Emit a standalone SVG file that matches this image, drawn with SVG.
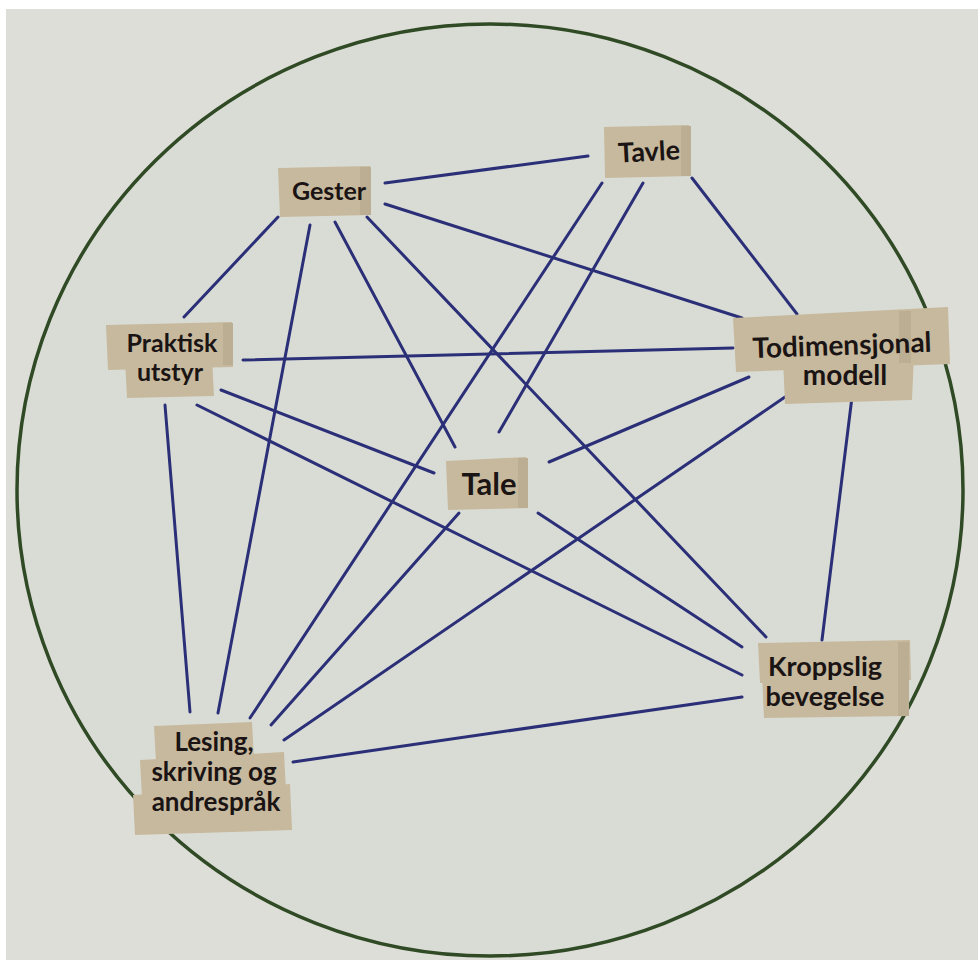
<svg xmlns="http://www.w3.org/2000/svg" width="978" height="960" viewBox="0 0 978 960">
<style>
.edge{stroke:#2b2f77;stroke-width:3;stroke-linecap:round;fill:none}
.tape{fill:#c7b99d}
.tape2{fill:#bcae92}
.lbl{font-family:Lato,"Open Sans","Liberation Sans",sans-serif;font-weight:bold;fill:#1a1414;text-anchor:middle}
</style>
<rect width="978" height="960" fill="#ffffff"/>
<rect x="6" y="9" width="972" height="951" fill="#ddded8"/>
<ellipse cx="490" cy="490" rx="473" ry="466" fill="#d9dcd5" stroke="#2f4a24" stroke-width="3.5"/>
<g id="connectors">
<line class="edge" x1="385" y1="183" x2="588" y2="156"/>
<line class="edge" x1="278" y1="217" x2="184" y2="317"/>
<line class="edge" x1="310" y1="225" x2="218" y2="713"/>
<line class="edge" x1="335" y1="222" x2="455" y2="447"/>
<line class="edge" x1="367" y1="217" x2="766" y2="637"/>
<line class="edge" x1="385" y1="204" x2="742" y2="318"/>
<line class="edge" x1="602" y1="183" x2="250" y2="718"/>
<line class="edge" x1="643" y1="183" x2="499" y2="432"/>
<line class="edge" x1="692" y1="178" x2="797" y2="314"/>
<line class="edge" x1="243" y1="360" x2="733" y2="348"/>
<line class="edge" x1="221" y1="390" x2="434" y2="473"/>
<line class="edge" x1="197" y1="405" x2="742" y2="675"/>
<line class="edge" x1="165" y1="405" x2="190" y2="712"/>
<line class="edge" x1="749" y1="377" x2="549" y2="462"/>
<line class="edge" x1="785" y1="397" x2="284" y2="740"/>
<line class="edge" x1="852" y1="397" x2="822" y2="640"/>
<line class="edge" x1="459" y1="513" x2="271" y2="725"/>
<line class="edge" x1="538" y1="513" x2="742" y2="647"/>
<line class="edge" x1="742" y1="697" x2="293" y2="762"/>
</g>
<g id="gester">
<polygon class="tape" points="278,168 370,166 371,215 280,217"/>
<rect class="tape2" x="360" y="167" width="11" height="48"/>
<text class="lbl" x="329" y="200" font-size="25">Gester</text>
</g>
<g id="tavle">
<polygon class="tape" points="604,127 689,125 691,176 605,178"/>
<rect class="tape2" x="681" y="126" width="10" height="50"/>
<text class="lbl" x="649" y="161" font-size="27" transform="rotate(-3 649 152)">Tavle</text>
</g>
<g id="praktisk">
<polygon class="tape" points="106,325 232,322 233,367 108,370"/>
<polygon class="tape" points="125,360 212,357 214,396 127,398"/>
<rect class="tape2" x="223" y="323" width="10" height="42"/>
<text class="lbl" x="172" y="352" font-size="25">Praktisk</text>
<text class="lbl" x="170" y="381" font-size="25">utstyr</text>
</g>
<g id="todimensjonal">
<polygon class="tape" points="733,318 948,307 950,364 736,372"/>
<polygon class="tape" points="783,358 914,354 912,400 785,404"/>
<rect class="tape2" x="899" y="311" width="12" height="52"/>
<text class="lbl" x="842" y="355" font-size="28" transform="rotate(-2 842 347)">Todimensjonal</text>
<text class="lbl" x="845" y="385" font-size="28">modell</text>
</g>
<g id="tale">
<polygon class="tape" points="446,461 526,457 528,508 448,510"/>
<rect class="tape2" x="518" y="458" width="10" height="50"/>
<text class="lbl" x="489" y="495" font-size="31">Tale</text>
</g>
<g id="kroppslig">
<polygon class="tape" points="758,643 910,640 911,680 760,683"/>
<polygon class="tape" points="762,676 906,673 908,716 764,718"/>
<rect class="tape2" x="898" y="642" width="11" height="74"/>
<text class="lbl" x="825" y="676" font-size="27">Kroppslig</text>
<text class="lbl" x="825" y="706" font-size="27">bevegelse</text>
</g>
<g id="lesing">
<polygon class="tape" points="154,726 252,722 254,760 156,762"/>
<polygon class="tape" points="140,760 284,752 286,792 142,797"/>
<polygon class="tape" points="133,795 290,784 292,830 135,835"/>
<text class="lbl" x="214" y="751" font-size="26">Lesing,</text>
<text class="lbl" x="214" y="781" font-size="26">skriving og</text>
<text class="lbl" x="216" y="811" font-size="26">andrespråk</text>
</g>
</svg>
